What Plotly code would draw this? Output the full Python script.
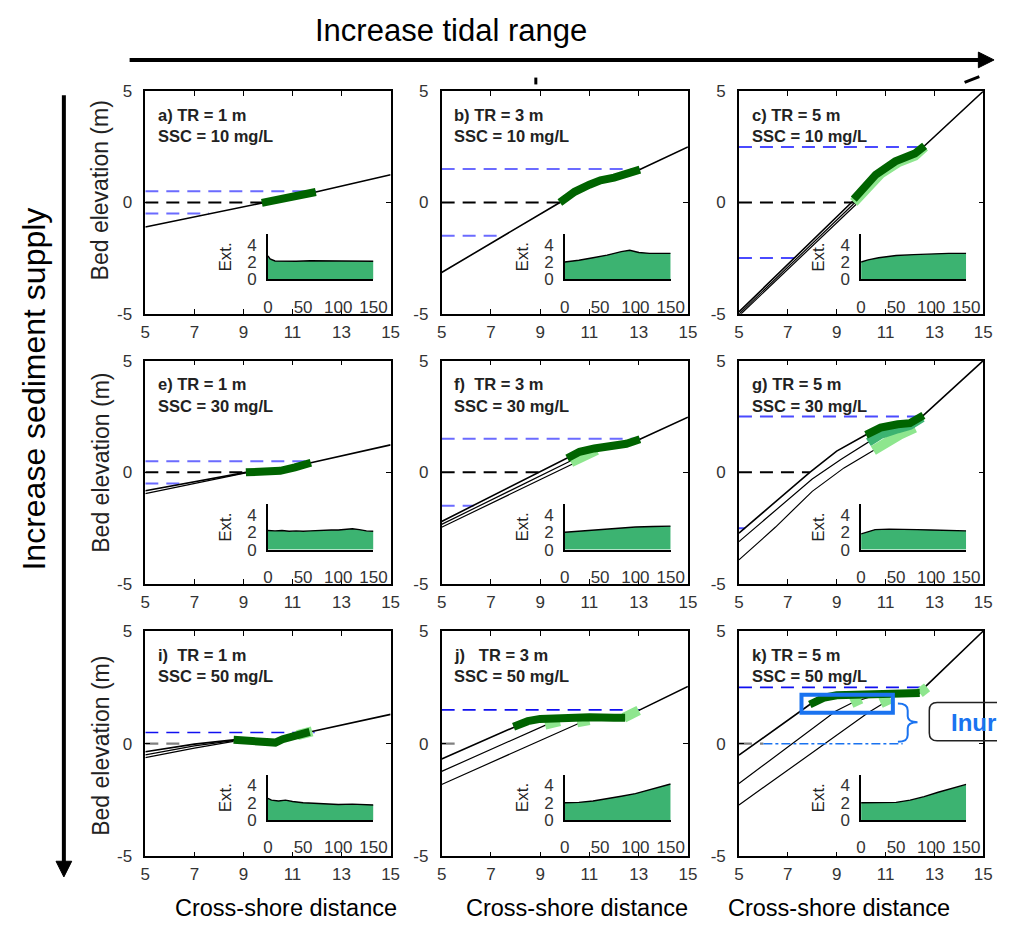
import plotly.graph_objects as go

W, H = 1011, 931
FONT = "Liberation Sans, Arial, sans-serif"

# ---------------- data ----------------
panels = ['a', 'b', 'c', 'e', 'f', 'g', 'i', 'j', 'k']

# panel a) TR = 1 m, SSC = 10 mg/L
a_prof1_x = [5, 9.75, 10.5, 11.2, 11.95, 15]
a_prof1_y = [-1.1, -0.02, 0.15, 0.3, 0.47, 1.25]
a_marsh_x = [9.75, 10.5, 11.2, 11.95]
a_marsh_y = [-0.02, 0.15, 0.3, 0.47]
a_tide_y = [0.5, 0.0, -0.5]
a_tide_xend = [11.95, 9.8, 7.6]
a_ext_t = [0, 3, 10, 20, 40, 60, 80, 100, 120, 140, 150]
a_ext_v = [2.7, 2.35, 2.12, 2.1, 2.1, 2.15, 2.12, 2.12, 2.1, 2.1, 2.1]

# panel b) TR = 3 m, SSC = 10 mg/L
b_prof1_x = [5, 9.8, 10.4, 11.0, 11.45, 12.0, 12.5, 13.05, 15]
b_prof1_y = [-3.15, 0.0, 0.48, 0.8, 1.0, 1.12, 1.28, 1.48, 2.5]
b_marsh_x = [9.8, 10.4, 11.0, 11.45, 12.0, 12.5, 13.05]
b_marsh_y = [0.0, 0.48, 0.8, 1.0, 1.12, 1.28, 1.48]
b_tide_y = [1.5, 0.0, -1.5]
b_tide_xend = [13.05, 9.8, 7.5]
b_ext_t = [0, 20, 40, 60, 80, 92, 105, 120, 150]
b_ext_v = [2.0, 2.2, 2.5, 2.8, 3.2, 3.35, 3.1, 3.0, 3.0]

# panel c) TR = 5 m, SSC = 10 mg/L
c_prof1_x = [5, 9.7, 10.6, 11.4, 12.2, 12.6, 15]
c_prof1_y = [-4.92, 0.1, 1.25, 1.85, 2.2, 2.55, 5.0]
c_prof2_x = [5, 9.75]
c_prof2_y = [-5.02, 0.0]
c_prof3_x = [5, 9.8]
c_prof3_y = [-5.1, -0.08]
c_marsh_x = [9.7, 10.0, 10.6, 11.4, 12.2, 12.6]
c_marsh_y = [0.15, 0.55, 1.25, 1.85, 2.2, 2.55]
c_light_x = [9.7, 10.2, 10.8, 11.5, 12.2, 12.6]
c_light_y = [0.0, 0.6, 1.3, 1.8, 2.1, 2.5]
c_tide_y = [2.5, 0.0, -2.5]
c_tide_xend = [12.5, 9.8, 7.5]
c_ext_t = [0, 10, 25, 50, 75, 100, 125, 150]
c_ext_v = [2.0, 2.25, 2.5, 2.75, 2.85, 2.95, 3.0, 3.0]

# panel e) TR = 1 m, SSC = 30 mg/L
e_prof1_x = [5, 9.1, 9.8, 10.5, 11.1, 11.75, 15]
e_prof1_y = [-0.82, 0.0, 0.03, 0.07, 0.22, 0.43, 1.23]
e_prof2_x = [5, 9.1]
e_prof2_y = [-0.95, -0.02]
e_marsh_x = [9.1, 9.8, 10.5, 11.1, 11.75]
e_marsh_y = [0.0, 0.03, 0.07, 0.22, 0.43]
e_tide_y = [0.5, 0.0, -0.5]
e_tide_xend = [11.75, 9.1, 6.6]
e_ext_t = [0, 10, 20, 30, 40, 50, 60, 70, 80, 90, 100, 110, 120, 130, 140, 150]
e_ext_v = [2.2, 2.15, 2.2, 2.1, 2.15, 2.1, 2.15, 2.2, 2.2, 2.25, 2.25, 2.3, 2.4, 2.3, 2.15, 2.1]

# panel f) TR = 3 m, SSC = 30 mg/L
f_prof1_x = [5, 10.1, 10.6, 11.2, 12.0, 12.5, 13.05, 15]
f_prof1_y = [-2.2, 0.63, 0.92, 1.07, 1.2, 1.28, 1.48, 2.47]
f_prof2_x = [5, 10.25, 10.7, 11.2]
f_prof2_y = [-2.33, 0.52, 0.85, 1.02]
f_prof3_x = [5, 10.4, 10.8, 11.3]
f_prof3_y = [-2.46, 0.42, 0.75, 0.98]
f_marsh_x = [10.1, 10.6, 11.2, 12.0, 12.5, 13.05]
f_marsh_y = [0.63, 0.92, 1.07, 1.2, 1.28, 1.48]
f_light_x = [10.25, 10.8, 11.3]
f_light_y = [0.45, 0.78, 1.0]
f_tide_y = [1.5, 0.0, -1.5]
f_tide_xend = [13.05, 9.0, 6.3]
f_ext_t = [0, 25, 50, 75, 100, 125, 150]
f_ext_v = [2.0, 2.15, 2.35, 2.5, 2.6, 2.65, 2.7]

# panel g) TR = 5 m, SSC = 30 mg/L
g_prof1_x = [5, 6.5, 7.9, 9.0, 10.2, 10.8, 11.5, 12.0, 12.55, 15]
g_prof1_y = [-2.72, -1.3, 0.0, 0.95, 1.68, 2.0, 2.15, 2.2, 2.55, 5.0]
g_prof2_x = [5, 6.5, 8.0, 9.2, 10.3, 10.8, 11.5, 12.0, 12.5]
g_prof2_y = [-3.1, -1.7, -0.3, 0.6, 1.35, 1.7, 1.95, 2.1, 2.45]
g_prof3_x = [5, 6.5, 8.0, 9.3, 10.5, 11.0, 11.6, 12.2]
g_prof3_y = [-3.92, -2.45, -0.85, 0.2, 0.98, 1.35, 1.7, 2.0]
g_marsh_x = [10.2, 10.8, 11.5, 12.0, 12.55]
g_marsh_y = [1.68, 2.0, 2.15, 2.2, 2.55]
g_mid_x = [10.3, 10.8, 11.5, 12.0, 12.5]
g_mid_y = [1.35, 1.7, 1.95, 2.1, 2.45]
g_light_x = [10.5, 11.0, 11.6, 12.2]
g_light_y = [0.98, 1.35, 1.7, 2.0]
g_tide_y = [2.5, 0.0, -2.5]
g_tide_xend = [12.5, 7.9, 5.25]
g_ext_t = [0, 8, 20, 40, 60, 80, 100, 120, 150]
g_ext_v = [1.8, 2.0, 2.3, 2.35, 2.35, 2.3, 2.25, 2.2, 2.15]

# panel i) TR = 1 m, SSC = 50 mg/L
i_prof1_x = [5, 7.0, 8.6, 9.3, 10.0, 10.3, 10.6, 11.0, 11.7, 15]
i_prof1_y = [-0.36, -0.02, 0.17, 0.12, 0.05, 0.05, 0.2, 0.34, 0.52, 1.3]
i_prof2_x = [5, 7.0, 8.6]
i_prof2_y = [-0.5, -0.1, 0.14]
i_prof3_x = [5, 7.0, 8.6]
i_prof3_y = [-0.62, -0.2, 0.1]
i_marsh_x = [8.6, 9.3, 10.0, 10.3, 10.6, 11.0, 11.7]
i_marsh_y = [0.17, 0.12, 0.05, 0.05, 0.2, 0.34, 0.52]
i_light_x = [11.2, 11.8]
i_light_y = [0.38, 0.55]
i_tide_y = [0.5, 0.0]
i_tide_xend = [11.9, 6.7]
i_ext_t = [0, 5, 15, 25, 35, 50, 65, 80, 100, 120, 135, 150]
i_ext_v = [2.5, 2.3, 2.2, 2.3, 2.15, 2.0, 1.95, 1.85, 1.8, 1.85, 1.8, 1.75]

# panel j) TR = 3 m, SSC = 50 mg/L
j_prof1_x = [5, 7.92, 8.5, 9.0, 10.0, 11.0, 12.0, 12.45, 12.75, 13.05, 15]
j_prof1_y = [-0.68, 0.75, 1.0, 1.1, 1.15, 1.17, 1.15, 1.15, 1.32, 1.5, 2.54]
j_prof2_x = [5, 9.31, 9.8, 10.5]
j_prof2_y = [-1.23, 0.87, 1.0, 1.1]
j_prof3_x = [5, 10.65, 11.0]
j_prof3_y = [-1.81, 0.94, 1.05]
j_marsh_x = [7.92, 8.5, 9.0, 10.0, 11.0, 12.0, 12.45]
j_marsh_y = [0.75, 1.0, 1.1, 1.15, 1.17, 1.15, 1.15]
j_light_x = [9.2, 9.8, None, 10.5, 11.0, None, 12.4, 12.75, 13.0]
j_light_y = [0.85, 1.0, None, 0.95, 1.05, None, 1.15, 1.32, 1.48]
j_tide_y = [1.5, 0.0]
j_tide_xend = [13.05, 5.6]
j_ext_t = [0, 20, 40, 60, 80, 100, 120, 140, 150]
j_ext_v = [2.0, 2.05, 2.2, 2.45, 2.75, 3.05, 3.5, 3.95, 4.15]

# panel k) TR = 5 m, SSC = 50 mg/L
k_prof1_x = [5, 7.9, 8.5, 9.0, 10.0, 11.0, 12.0, 12.4, 12.6, 15]
k_prof1_y = [-0.51, 1.74, 2.05, 2.15, 2.2, 2.22, 2.22, 2.25, 2.5, 5.0]
k_prof2_x = [5, 8.97, 9.7, 10.3]
k_prof2_y = [-1.77, 1.45, 1.85, 2.05]
k_prof3_x = [5, 10.3, 11.0]
k_prof3_y = [-2.72, 1.38, 1.85]
k_marsh_x = [7.9, 8.5, 9.0, 10.0, 11.0, 12.0, 12.4]
k_marsh_y = [1.74, 2.05, 2.15, 2.2, 2.22, 2.22, 2.25]
k_light_x = [9.6, 10.0, None, 10.8, 11.2, None, 12.4, 12.7]
k_light_y = [1.8, 2.0, None, 1.8, 2.0, None, 2.25, 2.5]
k_tide_y = [2.5, 0.0]
k_tide_xend = [12.45, 6.0]
k_ext_t = [0, 25, 50, 70, 90, 110, 130, 150]
k_ext_v = [2.0, 2.0, 2.05, 2.3, 2.7, 3.2, 3.65, 4.1]

# inundation highlight in panel k (data units)
k_box_x = [7.56, 11.3]
k_box_y = [1.37, 2.17]
k_ref_x = [6.0, 11.7]

title_line1 = ["a) TR = 1 m", "b) TR = 3 m", "c) TR = 5 m",
               "e) TR = 1 m", "f)\u00a0\u00a0TR = 3 m", "g) TR = 5 m",
               "i)\u00a0\u00a0TR = 1 m", "j)\u00a0\u00a0\u00a0TR = 3 m", "k) TR = 5 m"]
title_line2 = ["SSC = 10 mg/L"] * 3 + ["SSC = 30 mg/L"] * 3 + ["SSC = 50 mg/L"] * 3

main_xticks = [5, 7, 9, 11, 13, 15]
main_yticks = [-5, 0, 5]
ext_xticks = [0, 50, 100, 150]
ext_yticks = [0, 2, 4]

# ---------------- layout helpers ----------------
def fx(p):
    return p / W

def fy(p):
    return 1 - p / H

COLS = [(143, 393), (445, 696), (748, 997)]
ROWS = [(84, 311), (359, 587), (635, 865)]
INSET_Y = [(0.643, 0.846), (0.643, 0.846), (0.638, 0.840)]

G = globals()
fig = go.Figure()
layout = {}
annotations = []
shapes = []

BLUE_LIGHT = "#6b6bff"
BLUE_MID = "#4a4aff"
BLUE_DARK = "#1010f0"
tide_colors = {
    'a': [BLUE_LIGHT, 'black', BLUE_LIGHT], 'b': [BLUE_LIGHT, 'black', BLUE_LIGHT],
    'c': [BLUE_MID, 'black', BLUE_MID],
    'e': [BLUE_LIGHT, 'black', BLUE_LIGHT], 'f': [BLUE_LIGHT, 'black', BLUE_LIGHT],
    'g': [BLUE_MID, 'black', BLUE_MID],
    'i': [BLUE_DARK, 'gray'], 'j': [BLUE_DARK, 'gray'], 'k': [BLUE_DARK, 'gray'],
}

def axname(i, xy):
    return xy if i == 1 else f"{xy}{i}"

def add_line(xs, ys, i, color, width, dash=None):
    fig.add_trace(go.Scatter(x=xs, y=ys, mode='lines',
                             line=dict(color=color, width=width, dash=dash),
                             xaxis=axname(i, 'x'), yaxis=axname(i, 'y'),
                             showlegend=False, hoverinfo='skip', connectgaps=False))

tickfont = dict(family=FONT, size=17, color="#333")

for n, p in enumerate(panels):
    r, c = divmod(n, 3)
    L, R = COLS[c]
    T, B = ROWS[r]
    mi = n + 1
    ii = n + 10
    layout['xaxis' if mi == 1 else f'xaxis{mi}'] = dict(
        domain=[fx(L), fx(R)], anchor=axname(mi, 'y'), range=[5, 15],
        tickvals=main_xticks, ticks='inside', ticklen=5, tickwidth=1.2, tickcolor='black',
        mirror='ticks', showline=True, linecolor='black', linewidth=1.5,
        showgrid=False, zeroline=False, tickfont=tickfont, ticklabelstandoff=2)
    layout[f'yaxis{mi}' if mi > 1 else 'yaxis'] = dict(
        domain=[fy(B), fy(T)], anchor=axname(mi, 'x'), range=[-5, 5],
        tickvals=main_yticks, ticktext=[str(v) for v in main_yticks],
        ticks='inside', ticklen=5, tickwidth=1.2, tickcolor='black',
        mirror='ticks', showline=True, linecolor='black', linewidth=1.5,
        showgrid=False, zeroline=False, tickfont=tickfont, ticklabelstandoff=8)
    w = R - L
    h = B - T
    f1, f2 = INSET_Y[r]
    iL, iR = L + 0.5 * w, L + 0.93 * w
    iT, iB = T + f1 * h, T + f2 * h
    layout[f'xaxis{ii}'] = dict(
        domain=[fx(iL), fx(iR)], anchor=axname(ii, 'y'), range=[0, 150],
        tickvals=ext_xticks, ticks='', showline=True, linecolor='black', linewidth=1.5,
        showgrid=False, zeroline=False, tickfont=tickfont, ticklabelstandoff=11)
    layout[f'yaxis{ii}'] = dict(
        domain=[fy(iB), fy(iT)], anchor=axname(ii, 'x'), range=[0, 5.2],
        tickvals=ext_yticks, ticks='', showline=True, linecolor='black', linewidth=1.5,
        showgrid=False, zeroline=False, tickfont=tickfont, ticklabelstandoff=6)

    # tide levels
    tys = G[f'{p}_tide_y']
    txe = G[f'{p}_tide_xend']
    for k, (ty, xe) in enumerate(zip(tys, txe)):
        col = tide_colors[p][k]
        wdt = 2 if r < 2 else 1.6
        if col == 'gray':
            wdt = 2.2
        add_line([5, xe], [ty, ty], mi, col, wdt, dash="13px,8px")
    # profiles
    for q in (3, 2, 1):
        if f'{p}_prof{q}_x' in G:
            add_line(G[f'{p}_prof{q}_x'], G[f'{p}_prof{q}_y'], mi, 'black', 1.6 if q == 1 else 1.2)
    # marsh
    if f'{p}_light_x' in G:
        add_line(G[f'{p}_light_x'], G[f'{p}_light_y'], mi, '#8ee68e', 10)
    if f'{p}_mid_x' in G:
        add_line(G[f'{p}_mid_x'], G[f'{p}_mid_y'], mi, '#3cb371', 9)
    add_line(G[f'{p}_marsh_x'], G[f'{p}_marsh_y'], mi, '#006400', 8)

    # inset extent
    fig.add_trace(go.Scatter(x=G[f'{p}_ext_t'], y=G[f'{p}_ext_v'], mode='lines',
                             fill='tozeroy', fillcolor='#3cb371',
                             line=dict(color='black', width=1.4),
                             xaxis=axname(ii, 'x'), yaxis=axname(ii, 'y'),
                             showlegend=False, hoverinfo='skip'))

    # texts
    annotations.append(dict(x=fx(L + 11), y=fy(T + 24), xref='paper', yref='paper',
                            text=f"<b>{title_line1[n]}</b>", showarrow=False,
                            xanchor='left', yanchor='middle',
                            font=dict(family=FONT, size=16.5, color='#222')))
    annotations.append(dict(x=fx(L + 11), y=fy(T + 46), xref='paper', yref='paper',
                            text=f"<b>{title_line2[n]}</b>", showarrow=False,
                            xanchor='left', yanchor='middle',
                            font=dict(family=FONT, size=16.5, color='#222')))
    annotations.append(dict(x=fx(iL - 43), y=fy((iT + iB) / 2), xref='paper', yref='paper',
                            text="Ext.", showarrow=False, textangle=-90,
                            xanchor='center', yanchor='middle',
                            font=dict(family=FONT, size=17, color='#222')))

# axis titles
for yc in [185, 463, 752]:
    annotations.append(dict(x=fx(97), y=fy(yc), xref='paper', yref='paper',
                            text="Bed elevation (m)", showarrow=False, textangle=-90,
                            xanchor='center', yanchor='middle',
                            font=dict(family=FONT, size=23, color='#222')))
for xc in [286, 583, 850]:
    annotations.append(dict(x=fx(xc), y=fy(918), xref='paper', yref='paper',
                            text="Cross-shore distance", showarrow=False,
                            xanchor='center', yanchor='middle',
                            font=dict(family=FONT, size=23.5, color='black')))

annotations.append(dict(x=fx(455), y=fy(22), xref='paper', yref='paper',
                        text="Increase tidal range", showarrow=False,
                        xanchor='center', yanchor='middle',
                        font=dict(family=FONT, size=31, color='black')))
annotations.append(dict(x=fx(30), y=fy(388), xref='paper', yref='paper',
                        text="Increase sediment supply", showarrow=False, textangle=-90,
                        xanchor='center', yanchor='middle',
                        font=dict(family=FONT, size=32, color='black')))
annotations.append(dict(x=fx(962), y=fy(728), xref='paper', yref='paper',
                        text="<b>Inur</b>", showarrow=False,
                        xanchor='left', yanchor='middle',
                        font=dict(family=FONT, size=24, color='#1a73f0')))

def ppath(pts, close=False):
    s = "M " + " L ".join(f"{fx(x):.5f},{fy(y):.5f}" for x, y in pts)
    return s + (" Z" if close else "")

# arrows
shapes.append(dict(type='line', xref='paper', yref='paper',
                   x0=fx(127), y0=fy(52), x1=fx(994), y1=fy(52),
                   line=dict(color='black', width=4)))
shapes.append(dict(type='path', xref='paper', yref='paper',
                   path=ppath([(992, 44), (1008, 52), (992, 60)], True),
                   fillcolor='black', line=dict(color='black', width=1)))
shapes.append(dict(type='line', xref='paper', yref='paper',
                   x0=fx(60), y0=fy(88), x1=fx(60), y1=fy(872),
                   line=dict(color='black', width=4)))
shapes.append(dict(type='path', xref='paper', yref='paper',
                   path=ppath([(52, 870), (60, 886), (68, 870)], True),
                   fillcolor='black', line=dict(color='black', width=1)))
# small marks at top
shapes.append(dict(type='line', xref='paper', yref='paper',
                   x0=fx(541), y0=fy(70), x1=fx(541), y1=fy(77),
                   line=dict(color='black', width=3)))
shapes.append(dict(type='line', xref='paper', yref='paper',
                   x0=fx(978), y0=fy(75), x1=fx(993), y1=fy(69),
                   line=dict(color='black', width=3)))

# panel k inundation annotation
BL = '#1a73f0'
shapes.append(dict(type='rect', xref='x9', yref='y9',
                   x0=k_box_x[0], x1=k_box_x[1], y0=k_box_y[0], y1=k_box_y[1],
                   line=dict(color=BL, width=4)))
shapes.append(dict(type='line', xref='x9', yref='y9',
                   x0=k_ref_x[0], x1=k_ref_x[1], y0=0, y1=0,
                   line=dict(color=BL, width=1.6, dash='dashdot')))

def qpath(cmds):
    out = []
    for cmd in cmds:
        letter, pts = cmd[0], cmd[1:]
        out.append(letter + " " + " ".join(f"{fx(x):.5f},{fy(y):.5f}" for x, y in pts))
    return " ".join(out)

brace = qpath([('M', (910, 709)), ('Q', (920, 709), (920, 716)), ('L', (920, 722)),
               ('Q', (920, 728), (930, 728)), ('Q', (920, 728), (920, 734)),
               ('L', (920, 741)), ('Q', (920, 748), (910, 748))])
shapes.append(dict(type='path', xref='paper', yref='paper', path=brace,
                   line=dict(color=BL, width=2)))
box = qpath([('M', (1011, 708)), ('L', (950, 708)), ('Q', (942, 708), (942, 716)),
             ('L', (942, 739)), ('Q', (942, 747), (950, 747)), ('L', (1011, 747))])
shapes.append(dict(type='path', xref='paper', yref='paper', path=box,
                   line=dict(color='#222', width=1.5)))

fig.update_layout(**layout)
fig.update_layout(width=W, height=H, margin=dict(l=0, r=0, t=0, b=0),
                  paper_bgcolor='white', plot_bgcolor='rgba(0,0,0,0)',
                  showlegend=False, annotations=annotations, shapes=shapes,
                  font=dict(family=FONT))
fig.write_html("out.html")
